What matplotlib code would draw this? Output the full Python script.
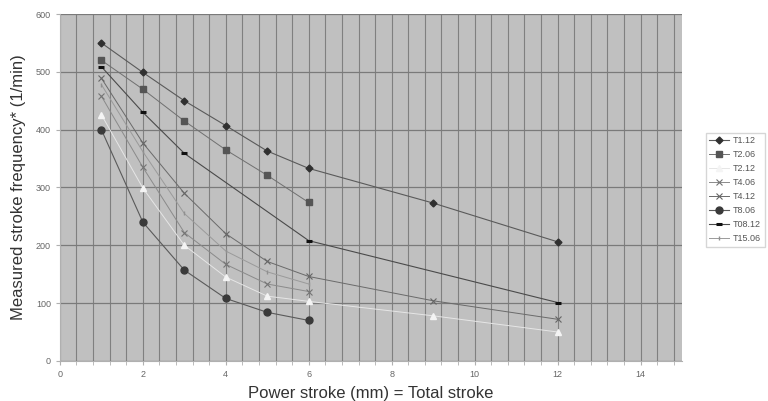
import matplotlib
matplotlib.use("Agg")
import matplotlib.pyplot as plt
from matplotlib.ticker import MultipleLocator

plt.rcParams['font.family'] = ['Liberation Sans', 'DejaVu Sans']

x_long = [1, 2, 3, 4, 5, 6, 9, 12]
x_short = [1, 2, 3, 4, 5, 6]
x_dash = [1, 2, 3, 6, 12]

t1_12 = [550, 499, 450, 407, 363, 333, 273, 206]
t2_06 = [520, 470, 415, 365, 321, 274]
t2_12 = [426, 299, 200, 145, 112, 103, 78, 50]
t4_06 = [458, 335, 222, 167, 133, 120]
t4_12 = [489, 377, 290, 220, 172, 146, 104, 72]
t8_06 = [400, 240, 157, 108, 84, 70]
t08_12 = [509, 430, 359, 208, 101]
t15_06 = [478, 362, 255, 190, 154, 133]

labels = ["T1.12", "T2.06", "T2.12", "T4.06", "T4.12", "T8.06", "T08.12", "T15.06"]

fig = plt.figure(figsize=(7.68, 4.01), dpi=100)
ax = fig.add_axes([0.078, 0.1, 0.81, 0.865])
ax.set_facecolor('#c0c0c0')

series = [
    (x_long, t1_12, dict(color='#5a5a5a', marker='D', ms=3.5, mfc='#303030', mec='#303030', lw=0.8)),
    (x_short, t2_06, dict(color='#707070', marker='s', ms=4.5, mfc='#555555', mec='#555555', lw=0.7)),
    (x_long, t2_12, dict(color='#e6e6e6', marker='^', ms=4.5, mfc='#f4f4f4', mec='#f4f4f4', lw=0.7)),
    (x_short, t4_06, dict(color='#8a8a8a', marker='x', ms=4.5, mec='#747474', mew=0.8, lw=0.7)),
    (x_long, t4_12, dict(color='#6a6a6a', marker='x', ms=4.5, mec='#666666', mew=0.8, lw=0.7)),
    (x_short, t8_06, dict(color='#5a5a5a', marker='o', ms=5, mfc='#3a3a3a', mec='#3a3a3a', lw=0.8)),
    (x_dash, t08_12, dict(color='#4a4a4a', marker='_', ms=4, mec='#101010', mew=2.2, lw=0.8)),
    (x_short, t15_06, dict(color='#9a9a9a', marker='|', ms=3.5, mec='#909090', lw=0.7)),
]
for (xs, ys, st), lab in zip(series, labels):
    ax.plot(xs, ys, label=lab, zorder=3, **st)

ax.set_xlim(0, 15)
ax.set_ylim(0, 600)
ax.xaxis.set_major_locator(MultipleLocator(2))
ax.xaxis.set_minor_locator(MultipleLocator(0.4))
ax.yaxis.set_major_locator(MultipleLocator(100))
ax.grid(which='both', axis='x', color='#808080', lw=0.8)
ax.grid(which='major', axis='y', color='#7a7a7a', lw=0.9)
ax.set_axisbelow(True)

for s in ['top', 'right']:
    ax.spines[s].set_visible(False)
for s in ['left', 'bottom']:
    ax.spines[s].set_color('#b0b0b0')
ax.tick_params(which='both', colors='#b0b0b0', labelcolor='#666666', labelsize=6.5, length=3, direction='out')
ax.tick_params(axis='x', which='minor', length=3)

ax.set_xlabel("Power stroke (mm) = Total stroke", fontsize=12, color='#333333', labelpad=5)
ax.set_ylabel("Measured stroke frequency* (1/min)", fontsize=12, color='#333333', labelpad=7)

leg = fig.legend(loc='upper left', bbox_to_anchor=(0.913, 0.68), fontsize=6.5, frameon=True,
                 fancybox=False, edgecolor='#cccccc', handlelength=2.2, handletextpad=0.4,
                 labelspacing=0.55, borderpad=0.4)
for t in leg.get_texts():
    t.set_color('#555555')

fig.savefig('out.png', dpi=100, facecolor='white')
